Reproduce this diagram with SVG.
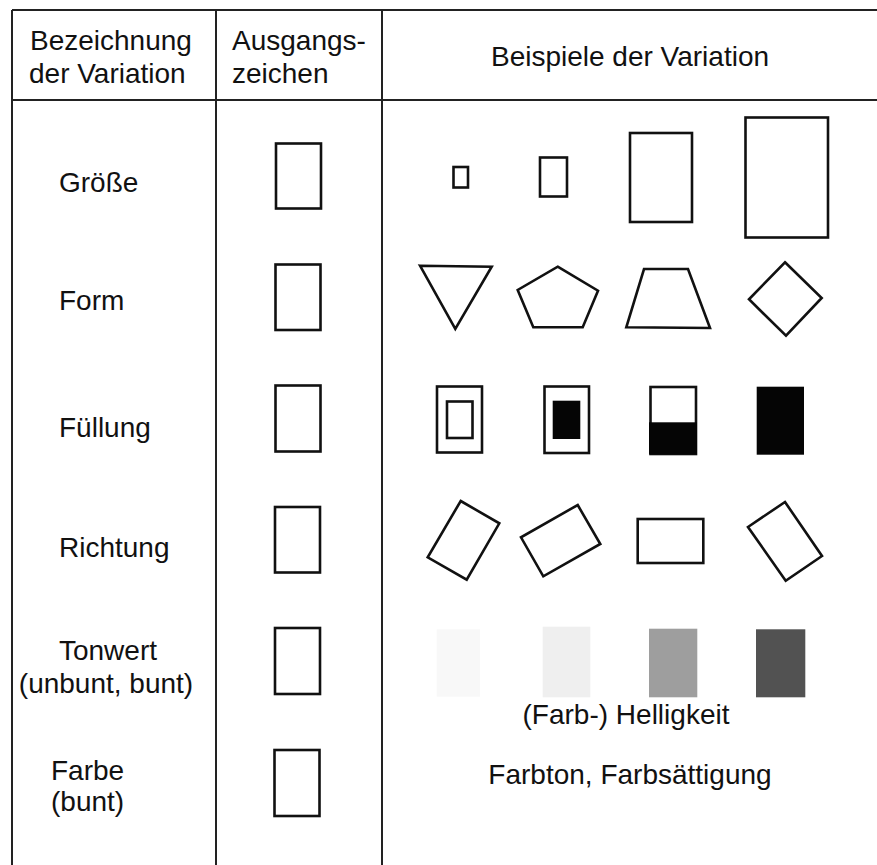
<svg xmlns="http://www.w3.org/2000/svg" width="877" height="865" viewBox="0 0 877 865">
<style>
text{font-family:"Liberation Sans",Arial,sans-serif;font-size:28px;fill:#111}
.grid{stroke:#222;stroke-width:2;fill:none}
.sh{fill:none;stroke:#111;stroke-width:2.6;stroke-linejoin:miter}
.blk{fill:#050505}
</style>
<rect width="877" height="865" fill="#fff"/>
<g id="table" class="grid">
<line x1="12" y1="10" x2="877" y2="10"/>
<line x1="12" y1="100" x2="877" y2="100"/>
<line x1="12" y1="10" x2="12" y2="865"/>
<line x1="216" y1="10" x2="216" y2="865"/>
<line x1="382" y1="10" x2="382" y2="865"/>
</g>
<g id="header">
<text x="30" y="50">Bezeichnung</text>
<text x="29" y="83">der Variation</text>
<text x="232" y="50">Ausgangs-</text>
<text x="232" y="83">zeichen</text>
<text x="630" y="66" text-anchor="middle">Beispiele der Variation</text>
</g>
<g id="labels">
<text x="59" y="192">Größe</text>
<text x="59" y="310">Form</text>
<text x="59" y="437">Füllung</text>
<text x="59" y="557">Richtung</text>
<text x="108" y="660" text-anchor="middle">Tonwert</text>
<text x="106" y="693" text-anchor="middle">(unbunt, bunt)</text>
<text x="51" y="780">Farbe</text>
<text x="51" y="811">(bunt)</text>
</g>
<g id="anchors" class="sh">
<rect x="276" y="143.5" width="45" height="65"/>
<rect x="275.5" y="264.5" width="45" height="65.5"/>
<rect x="275.5" y="385.5" width="45" height="66"/>
<rect x="275" y="507" width="45" height="65.5"/>
<rect x="275" y="628" width="45" height="66"/>
<rect x="274.5" y="750" width="45" height="66"/>
</g>
<g id="groesse" class="sh">
<rect x="453.5" y="167" width="14.5" height="20.5"/>
<rect x="540" y="157.5" width="27" height="39"/>
<rect x="630" y="133" width="62" height="89"/>
<rect x="745.5" y="117.5" width="82.5" height="120"/>
</g>
<g id="form" class="sh">
<polygon points="420,265.7 491.7,266.7 455.3,329"/>
<polygon points="557.7,266.7 598,290.7 582.7,327.3 533.3,327.3 517.7,290"/>
<polygon points="644,269 688,269 710,328 626.3,327.3"/>
<polygon points="785,262.3 821.7,298 786,335.7 749,299.3"/>
</g>
<g id="fuellung">
<rect class="sh" x="437" y="386.5" width="45" height="66"/>
<rect class="sh" x="447" y="401.5" width="25.5" height="36.5"/>
<rect class="sh" x="544.5" y="386.5" width="44.5" height="66.5"/>
<rect class="blk" x="552.7" y="400.7" width="27.6" height="38.3"/>
<rect class="sh" x="650.5" y="387" width="45.5" height="67"/>
<rect class="blk" x="649" y="422.3" width="48" height="32"/>
<rect class="blk" x="756.7" y="386.7" width="47.3" height="68"/>
</g>
<g id="richtung" class="sh">
<polygon points="460.7,501 499.3,523.3 466.7,579.7 427.7,557.3"/>
<polygon points="577.7,505 600.3,544 543.3,576.3 521,537.3"/>
<rect x="637.7" y="519" width="65.6" height="44"/>
<polygon points="785,502 822,556 785.7,580.7 748,527"/>
</g>
<g id="tonwert">
<rect x="436.7" y="629.3" width="43.3" height="67.4" fill="#f8f8f8"/>
<rect x="542.7" y="626.7" width="47.6" height="70.6" fill="#efefef"/>
<rect x="649" y="628.7" width="48.3" height="68.6" fill="#9e9e9e"/>
<rect x="756" y="629.3" width="49.3" height="68" fill="#525252"/>
<text x="626" y="724" text-anchor="middle">(Farb-) Helligkeit</text>
</g>
<g id="farbe">
<text x="630" y="784" text-anchor="middle">Farbton, Farbsättigung</text>
</g>
</svg>
